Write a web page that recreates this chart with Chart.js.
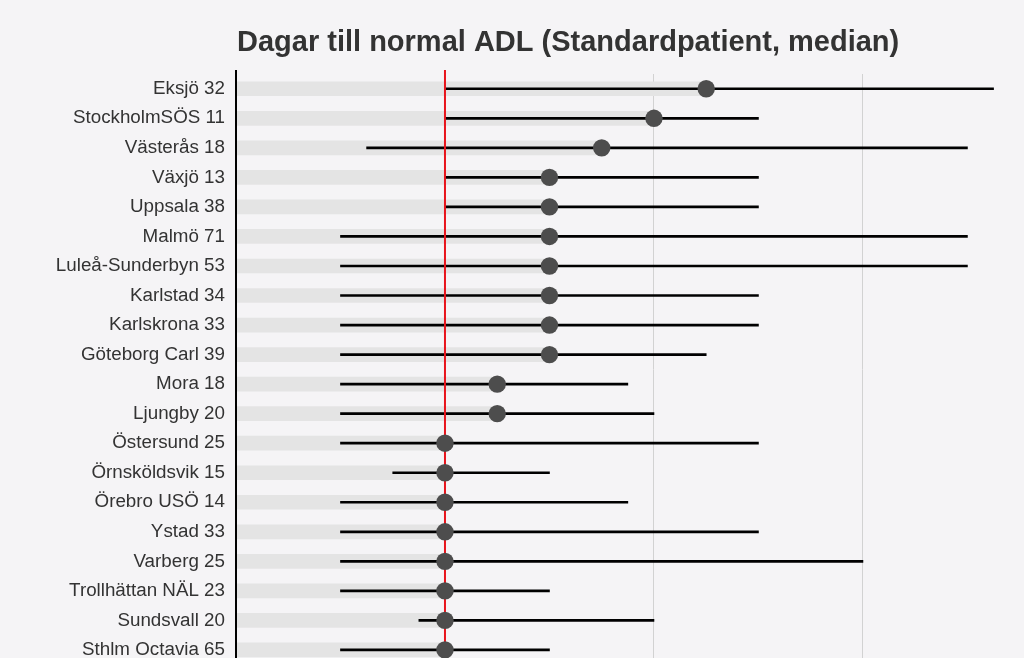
<!DOCTYPE html>
<html>
<head>
<meta charset="utf-8">
<script src="https://cdn.jsdelivr.net/npm/chart.js@4.4.1/dist/chart.umd.min.js"></script>
<style>
    html, body {
        margin: 0;
        padding: 0;
        background: #f5f4f6;
        overflow: hidden;
    }
    #wrap {
        width: 1024px;
        height: 687px;
        position: relative;
    }
</style>
</head>
<body>
<div id="wrap"><canvas id="chart"></canvas></div>
<script>
// =========================
// DATA
// =========================

const hospitals = [
    "Eksjö 32", "StockholmSÖS 11", "Västerås 18", "Växjö 13", "Uppsala 38",
    "Malmö 71", "Luleå-Sunderbyn 53", "Karlstad 34", "Karlskrona 33", "Göteborg Carl 39",
    "Mora 18", "Ljungby 20", "Östersund 25", "Örnsköldsvik 15", "Örebro USÖ 14",
    "Ystad 33", "Varberg 25", "Trollhättan NÄL 23", "Sundsvall 20", "Sthlm Octavia 65"
];

const medianDays = [9, 8, 7, 6, 6, 6, 6, 6, 6, 6, 5, 5, 4, 4, 4, 4, 4, 4, 4, 4];
const lowDays    = [4, 4, 2.5, 4, 4, 2, 2, 2, 2, 2, 2, 2, 2, 3, 2, 2, 2, 2, 3.5, 2];
const highDays   = [14.5, 10, 14, 10, 10, 14, 14, 10, 10, 9, 7.5, 8, 10, 6, 7.5, 10, 12, 6, 8, 6];

const overallMedian = 4;
const xTicks = [0, 4, 8, 12];

const titleText = "Dagar till normal ADL (Standardpatient, median)";

// =========================
// PLUGINS
// =========================

function vLine(chart, x, color) {
    const { ctx, chartArea } = chart;
    ctx.save();
    ctx.strokeStyle = color;
    ctx.lineWidth = 2;
    ctx.beginPath();
    ctx.moveTo(x, chartArea.top - 4);
    ctx.lineTo(x, chartArea.bottom);
    ctx.stroke();
    ctx.restore();
}

const extras = {
    id: "extras",
    afterDatasetDraw(chart, args) {
        // axis + red median line go over the ranges but under the dots
        if (args.index !== 1) return;
        vLine(chart, chart.chartArea.left, "#000");
        vLine(chart, chart.scales.x.getPixelForValue(overallMedian), "#e8141c");
    },
    afterDraw(chart) {
        const { ctx, chartArea } = chart;
        ctx.save();
        ctx.fillStyle = "#333";
        ctx.font = "bold 29px 'Liberation Sans', Arial, sans-serif";
        ctx.textBaseline = "alphabetic";
        ctx.fillText(titleText, chartArea.left + 1, 51);
        ctx.restore();
    }
};

// =========================
// CHART
// =========================

const dotPoints = medianDays.map((v, i) => ({ x: v, y: hospitals[i] }));
const ranges = lowDays.map((v, i) => [v, highDays[i]]);

new Chart(document.getElementById("chart"), {
    type: "bar",
    data: {
        labels: hospitals,
        datasets: [
            {
                type: "scatter",
                data: dotPoints,
                backgroundColor: "#4d4d4d",
                borderWidth: 0,
                pointRadius: 8.7,
                order: 1
            },
            {
                data: ranges,
                backgroundColor: "#000",
                barThickness: 2,
                grouped: false,
                order: 2
            },
            {
                data: medianDays,
                backgroundColor: "#e4e4e4",
                barThickness: 14,
                grouped: false,
                order: 3
            }
        ]
    },
    options: {
        indexAxis: "y",
        responsive: true,
        maintainAspectRatio: false,
        animation: false,
        layout: {
            padding: { top: 74, right: 20, bottom: 15, left: 0 }
        },
        plugins: {
            legend: { display: false },
            tooltip: { enabled: false },
            title: { display: false }
        },
        scales: {
            x: {
                type: "linear",
                min: 0,
                max: 14.7,
                afterBuildTicks(scale) {
                    scale.ticks = xTicks.map(v => ({ value: v }));
                },
                ticks: { display: false },
                border: { display: false },
                grid: {
                    drawTicks: false,
                    color: ctx => ctx.tick && ctx.tick.value > overallMedian ? "#d2d2d2" : "rgba(0,0,0,0)",
                    lineWidth: 1
                },
                afterFit(scale) {
                    scale.height = 0;
                }
            },
            y: {
                type: "category",
                offset: true,
                border: { display: false },
                grid: { display: false, drawTicks: false },
                ticks: {
                    color: "#333",
                    padding: 11,
                    font: { family: "'Liberation Sans', Arial, sans-serif", size: 18.8 }
                },
                afterFit(scale) {
                    scale.width = 236;
                }
            }
        }
    },
    plugins: [extras]
});
</script>
</body>
</html>
